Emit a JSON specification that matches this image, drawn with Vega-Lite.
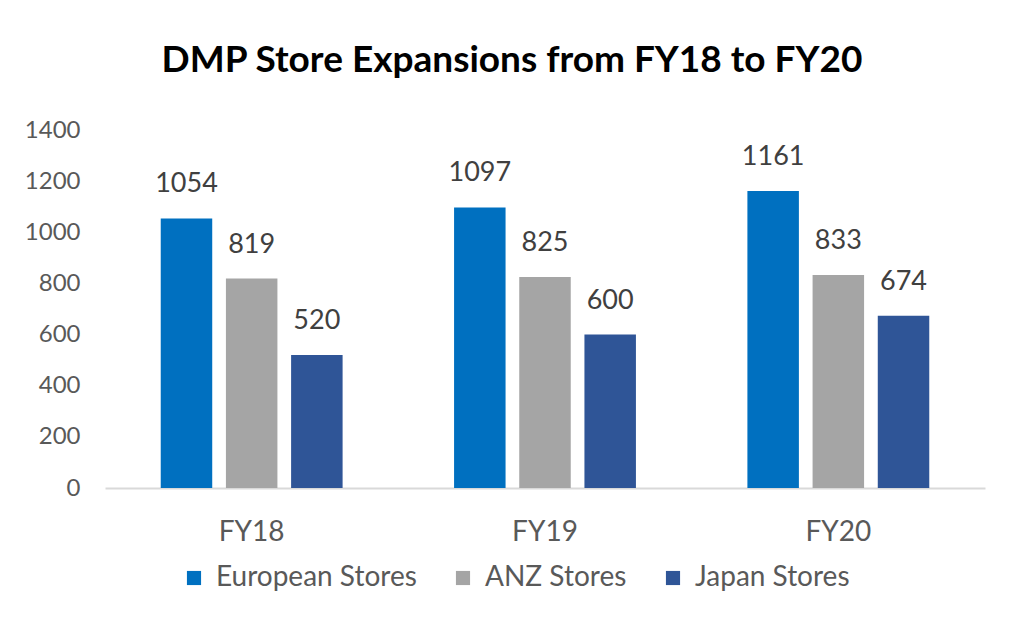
{
  "$schema": "https://vega.github.io/schema/vega-lite/v6.json",
  "width": 880,
  "height": 358,
  "autosize": {"type": "none"},
  "padding": {"left": 105, "top": 130, "right": 39, "bottom": 143},
  "background": "white",
  "config": {"view": {"stroke": null}, "font": "Lato"},
  "title": {
    "text": "DMP Store Expansions from FY18 to FY20",
    "fontSize": 37,
    "font": "Lato",
    "fontWeight": "bold",
    "color": "#000000",
    "anchor": "middle",
    "dx": -33,
    "offset": 38
  },
  "data": {
    "values": [
      {"year": "FY18", "region": "European Stores", "stores": 1054},
      {"year": "FY18", "region": "ANZ Stores", "stores": 819},
      {"year": "FY18", "region": "Japan Stores", "stores": 520},
      {"year": "FY19", "region": "European Stores", "stores": 1097},
      {"year": "FY19", "region": "ANZ Stores", "stores": 825},
      {"year": "FY19", "region": "Japan Stores", "stores": 600},
      {"year": "FY20", "region": "European Stores", "stores": 1161},
      {"year": "FY20", "region": "ANZ Stores", "stores": 833},
      {"year": "FY20", "region": "Japan Stores", "stores": 674}
    ]
  },
  "encoding": {
    "x": {
      "field": "year",
      "type": "nominal",
      "scale": {"paddingInner": 0.38, "paddingOuter": 0.19},
      "axis": {
        "title": null,
        "labelAngle": 0,
        "labelFontSize": 28,
        "labelColor": "#595959",
        "labelPadding": 30,
        "ticks": false,
        "domainColor": "#D9D9D9",
        "domainWidth": 2,
        "grid": false
      }
    },
    "xOffset": {
      "field": "region",
      "type": "nominal",
      "sort": ["European Stores", "ANZ Stores", "Japan Stores"],
      "scale": {"paddingInner": 0.21, "paddingOuter": 0}
    },
    "y": {
      "field": "stores",
      "type": "quantitative",
      "scale": {"domain": [0, 1400]},
      "axis": {
        "title": null,
        "values": [0, 200, 400, 600, 800, 1000, 1200, 1400],
        "format": "d",
        "labelFontSize": 24,
        "labelColor": "#595959",
        "grid": false,
        "domain": false,
        "ticks": false,
        "labelPadding": 25
      }
    }
  },
  "layer": [
    {
      "mark": {"type": "bar"},
      "encoding": {
        "color": {
          "field": "region",
          "type": "nominal",
          "sort": ["European Stores", "ANZ Stores", "Japan Stores"],
          "scale": {
            "domain": ["European Stores", "ANZ Stores", "Japan Stores"],
            "range": ["#0070C0", "#A5A5A5", "#2F5597"]
          },
          "legend": {
            "title": null,
            "orient": "none",
            "legendX": 75,
            "legendY": 434,
            "direction": "horizontal",
            "symbolType": "square",
            "symbolSize": 200,
            "symbolStrokeWidth": 0,
            "labelFontSize": 28,
            "labelLimit": 400,
            "labelColor": "#595959",
            "labelOffset": 8,
            "columnPadding": 32
          }
        }
      }
    },
    {
      "mark": {
        "type": "text",
        "baseline": "bottom",
        "dy": -20,
        "fontSize": 27,
        "color": "#404040"
      },
      "encoding": {
        "text": {"field": "stores", "type": "quantitative"}
      }
    }
  ]
}
